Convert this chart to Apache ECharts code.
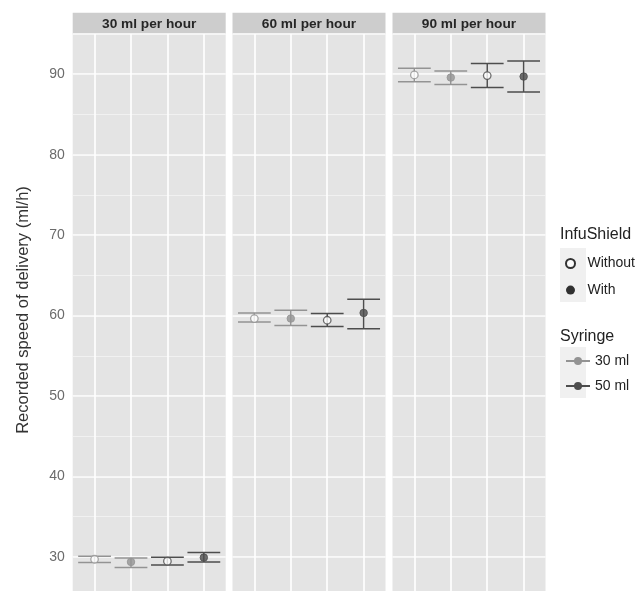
<!DOCTYPE html>
<html>
<head>
<meta charset="utf-8">
<script src="https://cdn.jsdelivr.net/npm/echarts@6/dist/echarts.min.js"></script>
<style>html,body{margin:0;padding:0;background:#fff}#c{width:641px;height:591px}</style>
</head>
<body>
<div id="c"></div>
<script>
// ---- data ----
const panels = ['30 ml per hour', '60 ml per hour', '90 ml per hour'];
const infuShield = ['Without', 'With', 'Without', 'With'];
const syringe = ['30 ml', '30 ml', '50 ml', '50 ml'];
const xPos = [1, 2, 3, 4];
const mean30 = [29.71, 29.38, 29.47, 29.92];
const low30  = [29.30, 28.68, 29.00, 29.38];
const high30 = [30.09, 29.88, 29.96, 30.55];
const mean60 = [59.63, 59.63, 59.42, 60.33];
const low60  = [59.21, 58.76, 58.64, 58.35];
const high60 = [60.33, 60.67, 60.25, 62.03];
const mean90 = [89.91, 89.59, 89.83, 89.71];
const low90  = [89.05, 88.72, 88.34, 87.80];
const high90 = [90.75, 90.41, 91.33, 91.65];
const yTickLabels = [30, 40, 50, 60, 70, 80, 90];

const means = [mean30, mean60, mean90];
const lows = [low30, low60, low90];
const highs = [high30, high60, high90];

// ---- style ----
const syrColor = {'30 ml': '#939393', '50 ml': '#4d4d4d'};
const panelLeft = [72.7, 232.5, 392.5];
const panelW = 153;
const panelTop = 34;
const stripTop = 12.7;
const yMin = 20, yMax = 95;
const pxPerUnit = 8.045;
const gridH = (yMax - yMin) * pxPerUnit;

const chart = echarts.init(document.getElementById('c'), null, {renderer: 'canvas'});

const grids = [], xAxes = [], yAxes = [], series = [], graphics = [];
panels.forEach((p, g) => {
  grids.push({left: panelLeft[g], top: panelTop, width: panelW, height: gridH,
    show: true, backgroundColor: '#e4e4e4', borderWidth: 0, containLabel: false,
    outerBoundsMode: 'none'});
  xAxes.push({type: 'value', gridIndex: g, min: 0.4, max: 4.6,
    axisLine: {show: false}, axisTick: {show: false, customValues: xPos},
    axisLabel: {show: false, customValues: xPos},
    splitLine: {show: true, lineStyle: {color: '#ffffff', width: 1.6}}});
  yAxes.push({type: 'value', gridIndex: g, min: yMin, max: yMax, interval: 10,
    axisLine: {show: false}, axisTick: {show: false},
    axisLabel: {show: g === 0, color: '#6b6b6b', fontSize: 14, margin: 8,
      fontFamily: 'Liberation Sans, Arial, sans-serif',
      formatter: v => yTickLabels.indexOf(v) >= 0 ? String(v) : ''},
    splitLine: {show: true, lineStyle: {color: '#ffffff', width: 1.6}}});
  yAxes.push({type: 'value', gridIndex: g, min: yMin, max: yMax, interval: 5,
    axisLine: {show: false}, axisTick: {show: false}, axisLabel: {show: false},
    splitLine: {show: true, lineStyle: {color: '#f4f4f4', width: 0.8}}});

  const ebData = xPos.map((x, i) => [x, lows[g][i], highs[g][i], i]);
  series.push({type: 'custom', xAxisIndex: g, yAxisIndex: 2 * g, z: 3,
    data: ebData, silent: true,
    renderItem: (params, api) => {
      const x = api.value(0), lo = api.value(1), hi = api.value(2), i = api.value(3);
      const pHi = api.coord([x, hi]), pLo = api.coord([x, lo]);
      const hw = api.size([0.9, 0])[0] / 2;
      const col = syrColor[syringe[i]];
      const st = {stroke: col, lineWidth: 1.5};
      return {type: 'group', children: [
        {type: 'line', shape: {x1: pHi[0], y1: pHi[1], x2: pLo[0], y2: pLo[1]}, style: st},
        {type: 'line', shape: {x1: pHi[0] - hw, y1: pHi[1], x2: pHi[0] + hw, y2: pHi[1]}, style: st},
        {type: 'line', shape: {x1: pLo[0] - hw, y1: pLo[1], x2: pLo[0] + hw, y2: pLo[1]}, style: st}
      ]};
    }});
  series.push({type: 'scatter', xAxisIndex: g, yAxisIndex: 2 * g, z: 5, silent: true,
    symbol: 'circle', symbolSize: 7.5,
    data: xPos.map((x, i) => ({value: [x, means[g][i]],
      itemStyle: infuShield[i] === 'With'
        ? {color: syrColor[syringe[i]], borderColor: syrColor[syringe[i]], borderWidth: 1}
        : {color: '#ffffff', borderColor: syrColor[syringe[i]], borderWidth: 1.3}}))});

  graphics.push({type: 'rect', shape: {x: panelLeft[g], y: stripTop, width: panelW, height: panelTop - stripTop},
    style: {fill: '#cdcdcd'}, silent: true});
  graphics.push({type: 'text', x: panelLeft[g] + panelW / 2, y: (stripTop + panelTop) / 2 + 1,
    style: {text: p, fill: '#262626', font: 'bold 13.7px "Liberation Sans", Arial, sans-serif',
      align: 'center', verticalAlign: 'middle'}, silent: true});
});

// legend dummy series
series.push({name: 'Without', type: 'scatter', xAxisIndex: 0, yAxisIndex: 0, data: [],
  symbol: 'circle', itemStyle: {color: '#ffffff', borderColor: '#000000', borderWidth: 1.5}});
series.push({name: 'With', type: 'scatter', xAxisIndex: 0, yAxisIndex: 0, data: [],
  symbol: 'circle', itemStyle: {color: '#000000'}});
series.push({name: '30 ml', type: 'line', xAxisIndex: 0, yAxisIndex: 0, data: [],
  symbol: 'circle', symbolSize: 8, itemStyle: {color: syrColor['30 ml']}, lineStyle: {color: syrColor['30 ml'], width: 1.5}});
series.push({name: '50 ml', type: 'line', xAxisIndex: 0, yAxisIndex: 0, data: [],
  symbol: 'circle', symbolSize: 8, itemStyle: {color: syrColor['50 ml']}, lineStyle: {color: syrColor['50 ml'], width: 1.5}});

// legend key backgrounds and titles
graphics.push({type: 'rect', shape: {x: 560, y: 248, width: 26, height: 54}, style: {fill: '#f0f0f0'}, z: -1, silent: true});
graphics.push({type: 'rect', shape: {x: 560, y: 347, width: 26, height: 51}, style: {fill: '#f0f0f0'}, z: -1, silent: true});
graphics.push({type: 'text', x: 560, y: 235, style: {text: 'InfuShield', fill: '#222222',
  font: '16px "Liberation Sans", Arial, sans-serif', verticalAlign: 'middle'}, silent: true});
graphics.push({type: 'text', x: 560, y: 337, style: {text: 'Syringe', fill: '#222222',
  font: '16px "Liberation Sans", Arial, sans-serif', verticalAlign: 'middle'}, silent: true});
graphics.push({type: 'text', x: 23, y: 310, rotation: Math.PI / 2,
  style: {text: 'Recorded speed of delivery (ml/h)', fill: '#333333',
    font: '16.5px "Liberation Sans", Arial, sans-serif', align: 'center', verticalAlign: 'middle'}, silent: true});

const legendText = {color: '#222222', fontSize: 14, fontFamily: 'Liberation Sans, Arial, sans-serif', lineHeight: 14};
chart.setOption({
  animation: false,
  backgroundColor: '#ffffff',
  grid: grids, xAxis: xAxes, yAxis: yAxes, series: series,
  legend: [
    {data: ['Without', 'With'], orient: 'vertical', left: 560, top: 251.5, itemWidth: 24, itemHeight: 9,
      itemGap: 12.6, selectedMode: false, textStyle: legendText},
    {data: ['30 ml', '50 ml'], orient: 'vertical', left: 560, top: 349, itemWidth: 24, itemHeight: 10,
      itemGap: 11, selectedMode: false, textStyle: legendText}
  ],
  graphic: graphics
});
</script>
</body>
</html>
